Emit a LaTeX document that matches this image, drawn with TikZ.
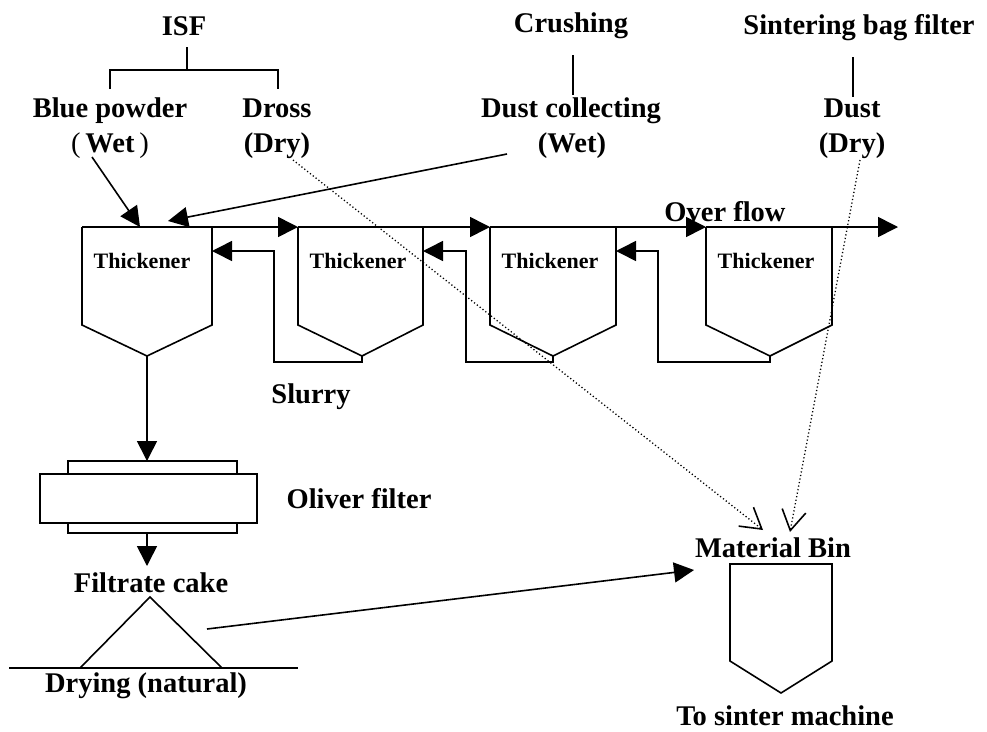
\documentclass[tikz,border=0pt]{standalone}
\usepackage{fontspec}
\setmainfont{Liberation Serif}
\usetikzlibrary{arrows.meta}
\begin{document}
\begin{tikzpicture}[x=1pt,y=-1pt,line width=1.6pt,
  lbl/.style={font=\fontsize{28.5}{34}\selectfont\bfseries,inner sep=0pt,anchor=base},
  thk/.style={font=\fontsize{22}{24}\selectfont\bfseries,inner sep=0pt,anchor=base},
  arr/.style={-{Triangle[length=20pt,width=20pt]}},
  darr/.style={dash pattern=on 1.2pt off 2.4pt,line width=1.3pt,-{Straight Barb[length=20pt,width=24pt,line width=1.6pt]}}]
\useasboundingbox (0,0) rectangle (987,731);
% --- source labels
\node[lbl] (isf) at (184,35) {ISF};
\node[lbl] (blue) at (110,117) {Blue powder};
\node[lbl] (bluewet) at (110,152) {{\mdseries(}\,Wet\,{\mdseries)}};
\node[lbl] (dross) at (277,117) {Dross};
\node[lbl] (drossdry) at (277,152) {(Dry)};
\node[lbl] (crush) at (571,32) {Crushing};
\node[lbl] (dustc) at (571,117) {Dust collecting};
\node[lbl] (dustcwet) at (572,152) {(Wet)};
\node[lbl] (sbf) at (859,34) {Sintering bag filter};
\node[lbl] (dust) at (852,117) {Dust};
\node[lbl] (dustdry) at (852,152) {(Dry)};
% --- tree lines
\coordinate (isfb) at (187,47);
\coordinate (isfj) at (187,70);
\coordinate (brl) at (110,70);
\coordinate (brr) at (278,70);
\coordinate (brlb) at (110,89);
\coordinate (brrb) at (278,89);
\draw (isfb) -- (isfj);
\draw (brlb) -- (brl) -- (brr) -- (brrb);
\coordinate (cr1) at (573,55);
\coordinate (cr2) at (573,95);
\draw (cr1) -- (cr2);
\coordinate (sb1) at (853,57);
\coordinate (sb2) at (853,97);
\draw (sb1) -- (sb2);
% --- thickeners
\foreach \n/\l/\r/\m in {1/82/212/147, 2/298/423/362, 3/490/616/553, 4/706/832/770}{
  \coordinate (t\n tl) at (\l,227);
  \coordinate (t\n tr) at (\r,227);
  \coordinate (t\n r) at (\r,251);
  \coordinate (t\n b) at (\m,356);
  \draw (\l,227) -- (\l,325) -- (t\n b) -- (\r,325) -- (t\n tr);
}
\node[thk] (th1) at (142,268) {Thickener};
\node[thk] (th2) at (358,268) {Thickener};
\node[thk] (th3) at (550,268) {Thickener};
\node[thk] (th4) at (766,268) {Thickener};
% --- overflow line
\coordinate (ovend) at (898,227);
\draw[arr] (t1tl) -- (t2tl);
\draw[arr] (t2tl) -- (t3tl);
\draw[arr] (t3tl) -- (t4tl);
\draw[arr] (t4tl) -- (ovend);
\node[lbl] (over) at (725,221) {Over flow};
% --- slurry returns
\draw[arr] (t2b) -- (362,362) -- (274,362) -- (274,251) -- (t1r);
\draw[arr] (t3b) -- (553,362) -- (466,362) -- (466,251) -- (t2r);
\draw[arr] (t4b) -- (770,362) -- (658,362) -- (658,251) -- (t3r);
\node[lbl] (slurry) at (311,403) {Slurry};
% --- feeds
\coordinate (bwstart) at (92,157);
\coordinate (t1in1) at (140,227);
\draw[arr] (bwstart) -- (t1in1);
\coordinate (dcstart) at (507,154);
\coordinate (t1in2) at (168,221);
\draw[arr] (dcstart) -- (t1in2);
% --- Oliver filter
\coordinate (oftop) at (147,461);
\coordinate (ofbot) at (147,533);
\draw (68,474) rectangle (237,461);
\draw (40,474) rectangle (257,523);
\draw (68,523) rectangle (237,533);
\draw[arr] (t1b) -- (oftop);
\node[lbl] (oliver) at (359,508) {Oliver filter};
\node[lbl] (cake) at (151,592) {Filtrate cake};
\coordinate (caketop) at (147,566);
\draw[arr] (ofbot) -- (caketop);
% --- drying pile
\coordinate (apex) at (150,597);
\coordinate (pl) at (80,668);
\coordinate (pr) at (222,668);
\draw (pl) -- (apex) -- (pr);
\coordinate (g1) at (9,668);
\coordinate (g2) at (298,668);
\draw (g1) -- (g2);
\node[lbl] (drying) at (146,692) {Drying (natural)};
% --- material bin
\node[lbl] (bin) at (773,557) {Material Bin};
\coordinate (b1) at (730,564);
\coordinate (b2) at (832,564);
\coordinate (bb) at (781,693);
\draw (b1) -- (730,661) -- (bb) -- (832,661) -- (b2) -- cycle;
\node[lbl] (tosinter) at (785,725) {To sinter machine};
\coordinate (pilestart) at (207,629);
\coordinate (binin) at (694,570);
\draw[arr] (pilestart) -- (binin);
% --- dotted dry feeds
\coordinate (drstart) at (293,160);
\coordinate (binin1) at (763,530);
\draw[darr] (drstart) -- (binin1);
\coordinate (dsstart) at (860,160);
\coordinate (binin2) at (790,532);
\draw[darr] (dsstart) -- (binin2);
\end{tikzpicture}
\end{document}
